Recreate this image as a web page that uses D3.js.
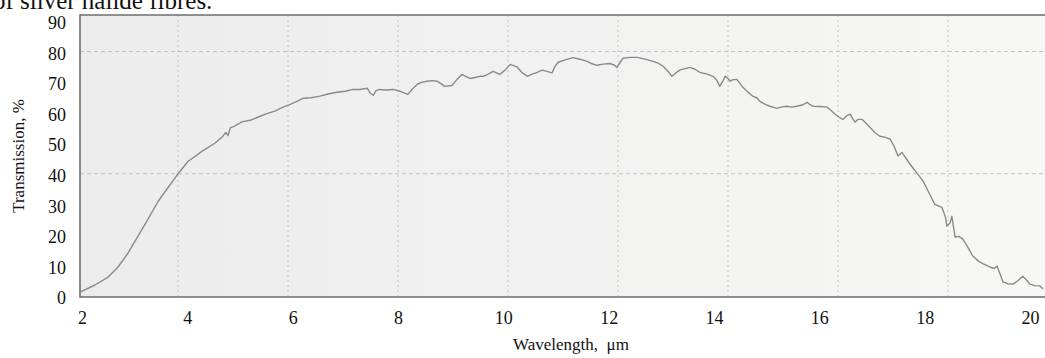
<!DOCTYPE html>
<html>
<head>
    <meta charset="UTF-8">
    <title>Transmission spectrum</title>
    <script src="https://cdnjs.cloudflare.com/ajax/libs/d3/7.8.5/d3.min.js" charset="utf-8"></script>
    <style>
        body { margin: 0; background: #fff; }
        svg { display: block; font-family: "Liberation Serif", "Times New Roman", serif; }
    </style>
</head>
<body>

<svg id="chart" width="1045" height="358"></svg>

<script type="text/javascript">

// wavelength in um
var wavelength = [
    2.22, 2.49, 2.73, 2.91, 3.09, 3.27, 3.45, 3.64, 3.82, 3.98,
    4.18, 4.44, 4.67, 4.80, 4.87, 4.91, 4.95, 5.02, 5.16, 5.31,
    5.45, 5.60, 5.76, 5.91, 6.04, 6.16, 6.27, 6.42, 6.58, 6.73,
    6.89, 7.04, 7.18, 7.31, 7.44, 7.49, 7.55, 7.60, 7.67, 7.78,
    7.91, 8.04, 8.18, 8.25, 8.35, 8.44, 8.53, 8.62, 8.71, 8.78,
    8.85, 8.98, 9.07, 9.16, 9.24, 9.31, 9.40, 9.49, 9.55, 9.64,
    9.73, 9.85, 9.95, 10.04, 10.16, 10.25, 10.35, 10.44, 10.53, 10.62,
    10.71, 10.80, 10.85, 10.91, 11.04, 11.18, 11.31, 11.44, 11.53, 11.62,
    11.73, 11.85, 11.93, 11.98, 12.04, 12.09, 12.22, 12.35, 12.49, 12.64,
    12.73, 12.82, 12.91, 12.98, 13.05, 13.13, 13.22, 13.31, 13.40, 13.49,
    13.62, 13.73, 13.80, 13.85, 13.91, 13.95, 14.00, 14.04, 14.09, 14.16,
    14.22, 14.27, 14.36, 14.45, 14.53, 14.58, 14.67, 14.76, 14.89, 14.98,
    15.07, 15.16, 15.25, 15.35, 15.44, 15.49, 15.55, 15.67, 15.80, 15.87,
    15.95, 16.02, 16.09, 16.16, 16.22, 16.27, 16.31, 16.36, 16.44, 16.51,
    16.58, 16.67, 16.76, 16.85, 16.95, 17.02, 17.09, 17.16, 17.24, 17.31,
    17.38, 17.45, 17.55, 17.62, 17.69, 17.76, 17.89, 17.95, 17.98, 18.04,
    18.07, 18.11, 18.13, 18.20, 18.27, 18.36, 18.45, 18.55, 18.64, 18.76,
    18.84, 18.89, 18.95, 19.00, 19.09, 19.18, 19.27, 19.36, 19.44, 19.49,
    19.58, 19.67, 19.73
];

// transmission in %
var transmission = [
    1.3, 3.6, 6.2, 9.5, 14, 19.5, 25, 31, 35.5, 39.5,
    44, 47.4, 50, 52, 53.5, 52.5, 55, 55.5, 57, 57.5,
    58.5, 59.6, 60.5, 61.8, 62.7, 63.7, 64.7, 64.9, 65.4, 66.1,
    66.7, 67.0, 67.6, 67.6, 68, 66.5, 65.7, 67.2, 67.6, 67.4,
    67.6, 67.0, 66, 67.5, 69.3, 70.0, 70.3, 70.5, 70.3, 69.5,
    68.6, 68.9, 70.8, 72.5, 71.8, 71.2, 71.5, 71.9, 71.9, 72.6,
    73.5, 72.5, 74, 75.8, 75, 73.2, 71.9, 72.6, 73.2, 73.9,
    73.5, 73, 75, 76.5, 77.3, 78, 77.5, 76.8, 76, 75.5,
    75.9, 76.1, 75.6, 74.8, 76.5, 77.8, 78.1, 78.1, 77.5, 76.8,
    76.2, 75.2, 73.5, 71.9, 73, 74, 74.4, 74.8, 74.2, 73.2,
    72.6, 71.9, 70.5, 68.6, 70.5, 71.9, 71.2, 70.3, 70.8, 70.9,
    69.5, 68.3, 66.8, 65.4, 64.8, 63.7, 62.8, 62.1, 61.4, 61.9,
    62.1, 61.8, 62.1, 62.5, 63.4, 62.6, 62.1, 62.0, 61.8, 60.8,
    59.5, 58.5, 57.8, 59.0, 59.5, 58, 56.9, 57.8, 57.8, 56.5,
    55.2, 53.5, 52.3, 52, 51.3, 49, 45.8, 47, 45, 43.1,
    41.5, 39.9, 37.5, 35, 32.5, 30, 29, 26, 22.9, 24,
    26.1, 21.5, 19.3, 19.5, 18.6, 16, 13.1, 11.5, 10.5, 9.5,
    9.0, 9.8, 7, 4.6, 4.0, 3.9, 5, 6.5, 5, 3.9,
    3.4, 3.3, 2.3
];

// axis ticks
var xTicks = [2, 4, 6, 8, 10, 12, 14, 16, 18, 20];
var yTicks = [0, 10, 20, 30, 40, 50, 60, 70, 80, 90];
var xGrid = [4, 6, 8, 10, 12, 14, 16, 18];
var yGrid = [40, 80];

var svg = d3.select("#chart");

// plot frame
var frame = { left: 80, right: 1045, top: 15, bottom: 297 };

// the photo stretches the grid a bit against the printed labels,
// so data + grid share one scale and the tick labels get their own
var x = d3.scaleLinear().domain([2, 20]).range([68, 1058]);
var xLabel = d3.scaleLinear().domain([2, 20]).range([82, 1030]);
var y = d3.scaleLinear().domain([0, 90]).range([296, 21]);

// light grey paper with a slight shading
var grad = svg.append("defs").append("linearGradient")
    .attr("id", "paper").attr("x1", "0%").attr("x2", "100%");
grad.append("stop").attr("offset", "0%").attr("stop-color", "#ececec");
grad.append("stop").attr("offset", "100%").attr("stop-color", "#f7f7f6");

svg.append("rect")
    .attr("x", frame.left)
    .attr("y", frame.top)
    .attr("width", frame.right - frame.left)
    .attr("height", frame.bottom - frame.top)
    .attr("fill", "url(#paper)");

// dotted grid
svg.append("g").selectAll("line")
    .data(xGrid)
    .enter().append("line")
    .attr("x1", function(d) { return x(d); })
    .attr("x2", function(d) { return x(d); })
    .attr("y1", frame.top)
    .attr("y2", frame.bottom)
    .attr("stroke", "#c2c2c2")
    .attr("stroke-width", 1)
    .attr("stroke-dasharray", "2,3");

svg.append("g").selectAll("line")
    .data(yGrid)
    .enter().append("line")
    .attr("x1", frame.left)
    .attr("x2", frame.right)
    .attr("y1", function(d) { return y(d); })
    .attr("y2", function(d) { return y(d); })
    .attr("stroke", "#c2c2c2")
    .attr("stroke-width", 1)
    .attr("stroke-dasharray", "4,3");

// frame lines (left, top, bottom)
svg.append("path")
    .attr("d", "M" + frame.right + "," + frame.top + "H" + frame.left + "V" + frame.bottom + "H" + frame.right)
    .attr("fill", "none")
    .attr("stroke", "#6e6e6e")
    .attr("stroke-width", 1.6);

// the spectrum
var points = wavelength.map(function(w, i) { return [w, transmission[i]]; });
var line = d3.line()
    .x(function(d) { return x(d[0]); })
    .y(function(d) { return y(d[1]); })
    .curve(d3.curveLinear);

svg.append("path")
    .datum(points)
    .attr("d", line)
    .attr("fill", "none")
    .attr("stroke", "#8a8a8a")
    .attr("stroke-width", 1.4)
    .attr("stroke-linejoin", "round");

// y axis labels
var yAxis = d3.axisLeft(y).tickValues(yTicks).tickSize(0).tickPadding(14);
var gy = svg.append("g")
    .attr("transform", "translate(" + frame.left + ",2)")
    .call(yAxis);
gy.select(".domain").remove();
gy.selectAll("text")
    .attr("font-family", "Liberation Serif, serif")
    .attr("font-size", 18)
    .attr("fill", "#111");

// x axis labels
var xAxis = d3.axisBottom(xLabel).tickValues(xTicks).tickSize(0).tickPadding(14);
var gx = svg.append("g")
    .attr("transform", "translate(0," + frame.bottom + ")")
    .call(xAxis);
gx.select(".domain").remove();
gx.selectAll("text")
    .attr("font-family", "Liberation Serif, serif")
    .attr("font-size", 18)
    .attr("fill", "#111");

// axis titles
svg.append("text")
    .attr("x", 571)
    .attr("y", 350)
    .attr("text-anchor", "middle")
    .attr("font-size", 17)
    .attr("fill", "#111")
    .attr("xml:space", "preserve")
    .text("Wavelength,  \u03bcm");

svg.append("text")
    .attr("transform", "translate(24,156) rotate(-90)")
    .attr("text-anchor", "middle")
    .attr("font-size", 17)
    .attr("fill", "#111")
    .text("Transmission, %");

// caption text cut off at the top of the photo
svg.append("text")
    .attr("x", -7)
    .attr("y", 9)
    .attr("font-size", 25)
    .attr("fill", "#111")
    .text("of silver halide fibres.");

</script>
</body>
</html>
